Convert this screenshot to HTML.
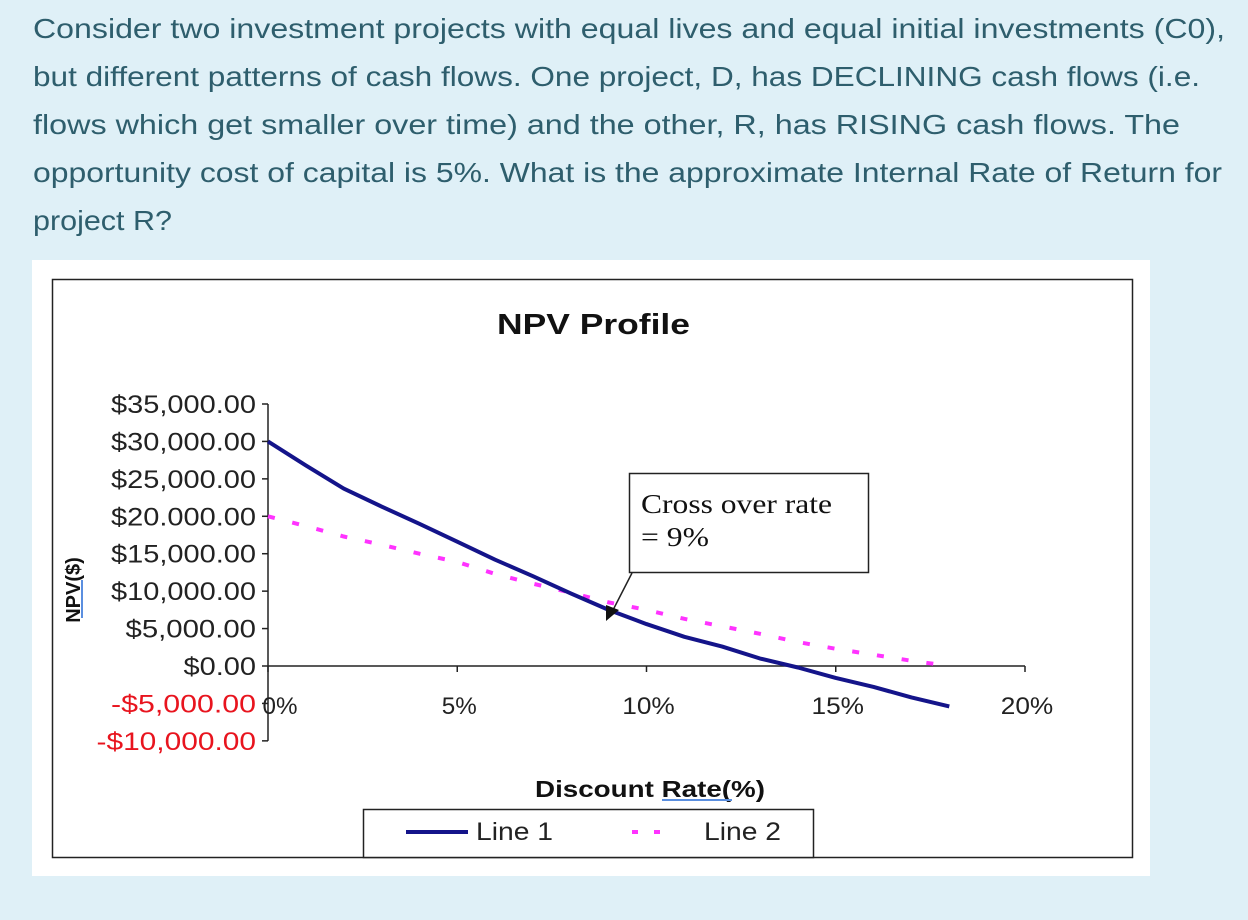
<!DOCTYPE html>
<html><head><meta charset="utf-8">
<style>
html,body{margin:0;padding:0;width:1248px;height:920px;background:#dff0f7;overflow:hidden}
svg{position:absolute;left:0;top:0}
</style></head>
<body>
<svg width="1248" height="920" font-family="Liberation Sans, sans-serif">
<g font-size="28" fill="#2e5e6d">
<text x="33" y="38" textLength="1192" lengthAdjust="spacingAndGlyphs">Consider two investment projects with equal lives and equal initial investments (C0),</text>
<text x="33" y="86" textLength="1167" lengthAdjust="spacingAndGlyphs">but different patterns of cash flows. One project, D, has DECLINING cash flows (i.e.</text>
<text x="33" y="134" textLength="1147" lengthAdjust="spacingAndGlyphs">flows which get smaller over time) and the other, R, has RISING cash flows. The</text>
<text x="33" y="182" textLength="1189" lengthAdjust="spacingAndGlyphs">opportunity cost of capital is 5%. What is the approximate Internal Rate of Return for</text>
<text x="33" y="230" textLength="139" lengthAdjust="spacingAndGlyphs">project R?</text>
</g>
<rect x="32" y="260" width="1118" height="616" fill="#fff"/>
<rect x="52.5" y="279.5" width="1080" height="578" fill="none" stroke="#222" stroke-width="1.5"/>
<text x="497" y="334" textLength="193" lengthAdjust="spacingAndGlyphs" font-size="29" font-weight="bold" fill="#111">NPV Profile</text>
<g id="axes"></g>
<g id="series"></g>
<text transform="translate(80,590) rotate(-90)" text-anchor="middle" font-size="20" font-weight="bold" fill="#111">NPV($)</text>
<line x1="82" y1="580" x2="82" y2="618" stroke="#5b8fe0" stroke-width="2"/>
<text x="535" y="797" textLength="230" lengthAdjust="spacingAndGlyphs" font-size="23" font-weight="bold" fill="#111">Discount Rate(%)</text>
<line x1="662" y1="800" x2="732" y2="800" stroke="#5b8fe0" stroke-width="2"/>
<g>
<rect x="629.5" y="473.5" width="239" height="99" fill="#fff" stroke="#222" stroke-width="1.5"/>
<text x="641" y="513" textLength="191" lengthAdjust="spacingAndGlyphs" font-family="Liberation Serif, serif" font-size="27" fill="#111">Cross over rate</text>
<text x="641" y="546" textLength="68" lengthAdjust="spacingAndGlyphs" font-family="Liberation Serif, serif" font-size="27" fill="#111">= 9%</text>
<line x1="632" y1="573" x2="612" y2="612" stroke="#222" stroke-width="1.5"/>
<polygon points="606,621 606,605 619,610" fill="#111"/>
</g>
<g>
<rect x="363.5" y="809.5" width="450" height="48" fill="#fff" stroke="#222" stroke-width="1.5"/>
<line x1="406" y1="832" x2="468" y2="832" stroke="#14148a" stroke-width="4"/>
<text x="476" y="840" textLength="77" lengthAdjust="spacingAndGlyphs" font-size="25" fill="#222">Line 1</text>
<line x1="632" y1="832" x2="666" y2="832" stroke="#ff33ff" stroke-width="4" stroke-dasharray="6,16"/>
<text x="704" y="840" textLength="77" lengthAdjust="spacingAndGlyphs" font-size="25" fill="#222">Line 2</text>
</g>
</svg>
<script>
const rates = [0,1,2,3,4,5,6,7,8,9,10,11,12,13,14,15,16,17,18];
const line1 = [30000,26800,23700,21300,19000,16600,14200,12000,9700,7500,5600,3900,2600,1000,-200,-1600,-2800,-4200,-5400];
const line2 = [20000,18700,17300,16200,15000,13900,12300,11000,9800,8500,7500,6300,5300,4300,3200,2300,1500,700,0];
const yTicks = [35000,30000,25000,20000,15000,10000,5000,0,-5000,-10000];
const yTickLabels = ["$35,000.00","$30,000.00","$25,000.00","$20.000.00","$15,000.00","$10,000.00","$5,000.00","$0.00","-$5,000.00","-$10,000.00"];
const xTicks = [0,5,10,15,20];
const xTickLabels = ["0%","5%","10%","15%","20%"];

const NS="http://www.w3.org/2000/svg";
const xS = r => 268 + (r/20)*(1025-268);
const yS = v => 666 - v*(262/35000);
function mk(tag, attrs, parent){const e=document.createElementNS(NS,tag);for(const k in attrs)e.setAttribute(k,attrs[k]);parent.appendChild(e);return e;}
const axes=document.getElementById('axes'), ser=document.getElementById('series');
let yAxis=mk('line',{x1:268,y1:yS(35000),x2:268,y2:yS(-10000),stroke:'#222','stroke-width':1.5},axes);


yTicks.forEach((v,i)=>{
  const t=mk('line',{x1:262,y1:yS(v),x2:268,y2:yS(v),stroke:'#222','stroke-width':1.5},axes);
  
  
  const s=yTickLabels[i];
  const l=mk('text',{x:256,y:yS(v)+9,'text-anchor':'end','font-size':25,fill:v<0?'#e8141e':'#222',textLength:s.length*14.5,lengthAdjust:'spacingAndGlyphs'},axes);
  l.textContent=s;
  
  
});
let xAxis=mk('line',{x1:268,y1:yS(0),x2:xS(20),y2:yS(0),stroke:'#222','stroke-width':1.5},axes);


xTicks.forEach((r,i)=>{
  const t=mk('line',{x1:xS(r),y1:yS(0),x2:xS(r),y2:yS(0)+6,stroke:'#222','stroke-width':1.5},axes);
  
  
  const s=xTickLabels[i];
  const l=mk('text',{x:xS(r)+(i==0?12:2),y:714,'text-anchor':'middle','font-size':24,fill:'#222',textLength:s.length*17.5,lengthAdjust:'spacingAndGlyphs'},axes);
  l.textContent=s;
  
  
});
const p2=mk('polyline',{points:rates.map((r,i)=>xS(r)+','+yS(line2[i])).join(' '),fill:'none',stroke:'#ff33ff','stroke-width':4,'stroke-dasharray':'7,18'},ser);


const p1=mk('polyline',{points:rates.map((r,i)=>xS(r)+','+yS(line1[i])).join(' '),fill:'none',stroke:'#14148a','stroke-width':4,'stroke-linejoin':'round'},ser);


</script>
</body></html>
